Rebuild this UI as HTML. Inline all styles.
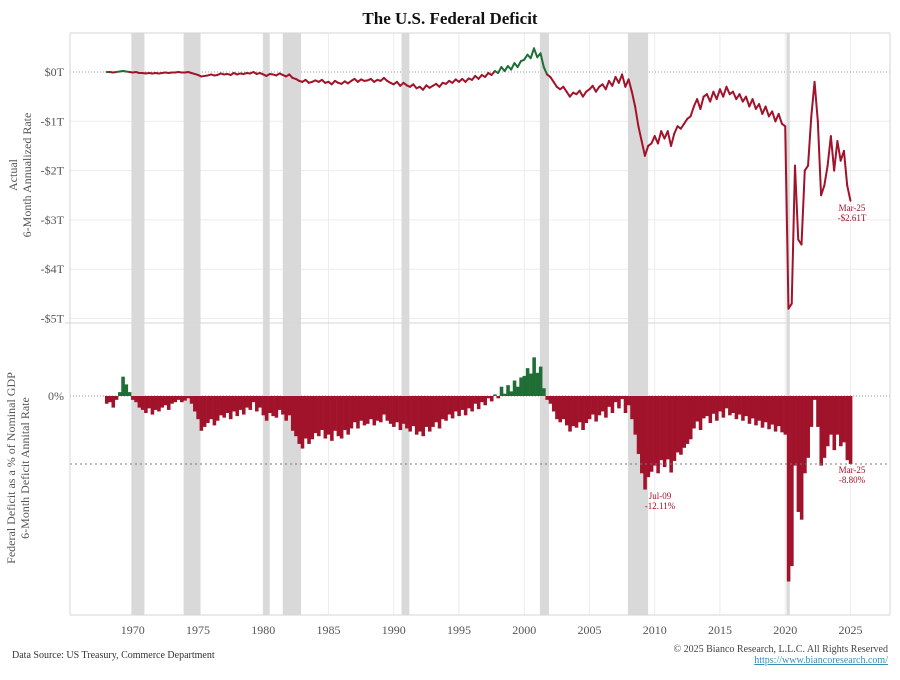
<!DOCTYPE html>
<html><head><meta charset="utf-8"><style>
body{margin:0;background:#fff;font-family:"Liberation Serif",serif}
svg text{font-family:"Liberation Serif",serif}
</style></head><body>
<svg id="c" width="900" height="675" viewBox="0 0 900 675" xmlns="http://www.w3.org/2000/svg">
<text x="450" y="24" text-anchor="middle" font-size="17" font-weight="bold" fill="#111">The U.S. Federal Deficit</text>
<g id="grid"></g>
<g id="rec"></g>
<g id="top"></g>
<g id="bot"></g>
<g id="axes"></g>
<text transform="translate(24,175) rotate(-90)" text-anchor="middle" font-size="12" fill="#555"><tspan x="0" dy="-7">Actual</tspan><tspan x="0" dy="14">6-Month Annualized Rate</tspan></text>
<text transform="translate(22,468) rotate(-90)" text-anchor="middle" font-size="12" fill="#555"><tspan x="0" dy="-7">Federal Deficit as a % of Nominal GDP</tspan><tspan x="0" dy="14">6-Month Deficit Annital Rate</tspan></text>
<text x="12" y="658" font-size="10" fill="#333">Data Source: US Treasury, Commerce Department</text>
<text x="888" y="652" text-anchor="end" font-size="10" fill="#444">© 2025 Bianco Research, L.L.C. All Rights Reserved</text>
<text x="888" y="663" text-anchor="end" font-size="10" fill="#3a8fb0" text-decoration="underline">https://www.biancoresearch.com/</text>
<text x="852" y="211" text-anchor="middle" font-size="9" fill="#a0132a"><tspan x="852">Mar-25</tspan><tspan x="852" dy="10">-$2.61T</tspan></text>
<text x="660" y="499" text-anchor="middle" font-size="9" fill="#a0132a"><tspan x="660">Jul-09</tspan><tspan x="660" dy="10">-12.11%</tspan></text>
<text x="852" y="473" text-anchor="middle" font-size="9" fill="#a0132a"><tspan x="852">Mar-25</tspan><tspan x="852" dy="10">-8.80%</tspan></text>
</svg>
<script>
const startYear = 1968;
const stepYears = 0.25;
const deficitT = [
0,0,-0.01,0, 0.01,0.02,0.01,0, -0.01,0,-0.02,-0.02, -0.03,-0.02,-0.03,-0.02,
-0.03,-0.02,-0.01,-0.02, -0.01,-0.01,0,-0.01, -0.01,0,-0.02,-0.04, -0.06,-0.09,-0.08,-0.07,
-0.05,-0.07,-0.06,-0.03, -0.05,-0.04,-0.06,-0.02, -0.05,-0.03,-0.04,-0.02, -0.03,0,-0.04,-0.02,
-0.05,-0.08,-0.04,-0.05, -0.07,-0.03,-0.06,-0.09, -0.05,-0.12,-0.14,-0.18, -0.2,-0.16,-0.22,-0.2,
-0.17,-0.2,-0.16,-0.22, -0.2,-0.25,-0.18,-0.22, -0.24,-0.19,-0.23,-0.18, -0.14,-0.2,-0.15,-0.18,
-0.17,-0.14,-0.2,-0.16, -0.18,-0.12,-0.18,-0.22, -0.25,-0.2,-0.28,-0.22, -0.27,-0.3,-0.25,-0.33,
-0.3,-0.36,-0.27,-0.32, -0.28,-0.24,-0.3,-0.22, -0.24,-0.18,-0.22,-0.15, -0.2,-0.14,-0.2,-0.13,
-0.16,-0.08,-0.14,-0.06, -0.1,-0.02,-0.06,0.02, -0.02,0.1,0.02,0.12, 0.05,0.18,0.1,0.22,
0.25,0.35,0.28,0.48, 0.3,0.38,0.1,-0.05, -0.1,-0.2,-0.3,-0.35, -0.3,-0.4,-0.5,-0.42,
-0.45,-0.38,-0.5,-0.4, -0.35,-0.28,-0.4,-0.3, -0.25,-0.35,-0.18,-0.28, -0.1,-0.22,-0.05,-0.3,
-0.15,-0.4,-0.7,-1.1, -1.4,-1.7,-1.5,-1.45, -1.3,-1.45,-1.2,-1.35, -1.2,-1.5,-1.25,-1.1,
-1.15,-1.05,-0.95,-0.9, -0.7,-0.55,-0.75,-0.5, -0.45,-0.6,-0.4,-0.55, -0.35,-0.5,-0.3,-0.45,
-0.4,-0.55,-0.45,-0.6, -0.5,-0.7,-0.55,-0.75, -0.65,-0.85,-0.7,-0.9, -0.8,-1.0,-0.85,-1.05,
-1.1,-4.8,-4.7,-1.9, -3.4,-3.5,-2.0,-1.9, -0.9,-0.2,-1.0,-2.5, -2.3,-1.9,-1.3,-2.0,
-1.4,-1.8,-1.6,-2.3, -2.61];
const deficitPct = [
-1,-0.8,-1.5,-0.5, 0.5,2.5,1.5,0.5, -0.5,-0.8,-1.5,-1.8, -2.2,-1.6,-2.4,-1.8,
-2,-1.5,-1.2,-1.8, -1,-0.8,-0.5,-0.8, -0.6,-0.3,-1,-2, -3,-4.5,-4,-3.5,
-3,-3.8,-3.2,-2.5, -2.8,-2.2,-3,-2, -2.6,-1.8,-2.4,-1.5, -1.8,-0.8,-2,-1.5,
-2.5,-3.2,-2.2,-2.6, -2.8,-1.8,-2.4,-3.2, -2.5,-4.5,-5.2,-6.2, -6.8,-5.5,-6.2,-5.6,
-4.8,-5.2,-4.4,-5.5, -5,-5.8,-4.5,-5.2, -5.5,-4.4,-5,-4.2, -3.4,-4.2,-3.2,-3.8,
-3.6,-3,-3.8,-3.2, -3.4,-2.4,-3.2,-3.6, -4,-3.4,-4.4,-3.6, -4.2,-4.6,-3.9,-5,
-4.6,-5.2,-4,-4.6, -4,-3.4,-4.2,-3, -3.2,-2.4,-2.9,-2, -2.6,-1.8,-2.5,-1.6,
-2,-1,-1.7,-0.8, -1.2,-0.3,-0.7,0.2, -0.3,1.2,0.3,1.4, 0.6,2.0,1.2,2.4,
2.6,3.6,2.9,5.0, 3.0,3.8,1,-0.5, -1,-2,-3,-3.4, -3,-3.8,-4.6,-3.9,
-4.1,-3.4,-4.4,-3.5, -3,-2.4,-3.3,-2.5, -2,-2.8,-1.4,-2.2, -0.8,-1.6,-0.4,-2.2,
-1.2,-3,-5,-7.5, -10,-12.1,-10.5,-9.8, -9,-10,-8.3,-9.2, -8.2,-9.9,-8.4,-7.3,
-7.6,-6.7,-6.2,-5.6, -4.2,-3.3,-4.4,-2.9, -2.6,-3.5,-2.3,-3.2, -2,-2.8,-1.6,-2.5,
-2.2,-3,-2.4,-3.2, -2.6,-3.6,-2.9,-3.8, -3.2,-4.1,-3.4,-4.3, -3.7,-4.6,-3.9,-4.7,
-5,-24,-22,-9, -15,-16,-10,-8, -4,-0.5,-4,-9, -8,-6.5,-5,-7,
-5,-6.5,-6,-8.3, -8.8];
const recessionStarts = [1969.9,1973.9,1980.0,1981.5,1990.6,2001.2,2007.95,2020.1];
const recessionEnds   = [1970.9,1975.2,1980.5,1982.9,1991.2,2001.9,2009.5,2020.35];
const xTickYears = [1970,1975,1980,1985,1990,1995,2000,2005,2010,2015,2020,2025];
const topTicks = [0,-1,-2,-3,-4,-5];
const topTickLabels = ['$0T','-$1T','-$2T','-$3T','-$4T','-$5T'];
const pctRef = -8.8;

const NS='http://www.w3.org/2000/svg';
const L=70,R=890,T1=33,B1=323,B2=615;
const x=y=>132.7+(y-1970)*13.05;
const yT=v=>72-v*49.3;
const yP=v=>396-v*7.73;
const RED='#a0132a',GRN='#1f6e35';
function mk(tag,attrs,parent){const e=document.createElementNS(NS,tag);for(const k in attrs)e.setAttribute(k,attrs[k]);document.getElementById(parent).appendChild(e);return e;}

recessionStarts.forEach((s,i)=>{
  const e=mk('rect',{x:x(s),y:T1,width:x(recessionEnds[i])-x(s),height:B2-T1,fill:'#d9d9d9'},'rec');
  
  
});
xTickYears.forEach(yr=>{
  const g=mk('line',{x1:x(yr),x2:x(yr),y1:T1,y2:B2,stroke:'#ececec','stroke-width':1},'grid');
  
  
  const t=mk('text',{x:x(yr),y:634,'text-anchor':'middle','font-size':12,fill:'#555'},'axes');
  t.textContent=yr;
  
  
});
topTicks.forEach((v,i)=>{
  if(v!==0){const g=mk('line',{x1:L,x2:R,y1:yT(v),y2:yT(v),stroke:'#ececec'},'grid');
  
  }
  const t=mk('text',{x:64,y:yT(v)+4,'text-anchor':'end','font-size':12,fill:'#555'},'axes');
  t.textContent=topTickLabels[i];
  
  
});
let z=mk('line',{x1:L,x2:R,y1:yT(0),y2:yT(0),stroke:'#999','stroke-dasharray':'1,2'},'grid');


z=mk('line',{x1:L,x2:R,y1:yP(0),y2:yP(0),stroke:'#999','stroke-dasharray':'1,2'},'grid');


z=mk('line',{x1:L,x2:R,y1:yP(pctRef),y2:yP(pctRef),stroke:'#777','stroke-dasharray':'2,3'},'axes');


let t0=mk('text',{x:64,y:yP(0)+4,'text-anchor':'end','font-size':12,fill:'#555'},'axes');
t0.textContent='0%';


[[L,T1,L,B2],[R,T1,R,B2],[L,T1,R,T1],[L,B1,R,B1],[L-5,B1,L,B1],[L,B2,R,B2]].forEach(c=>{
  const f=mk('line',{x1:c[0],y1:c[1],x2:c[2],y2:c[3],stroke:'#d6d6d6'},'axes');
  
  
});
for(let i=1;i<deficitT.length;i++){
  const a=startYear+(i-1)*stepYears,b=startYear+i*stepYears;
  const col=(deficitT[i]+deficitT[i-1])/2>=0?GRN:RED;
  const s=mk('line',{x1:x(a),y1:yT(deficitT[i-1]),x2:x(b),y2:yT(deficitT[i]),stroke:col,'stroke-width':2,'stroke-linecap':'round'},'top');
  
  
}
const bw=13.05*stepYears;
deficitPct.forEach((v,i)=>{
  const d=startYear+i*stepYears;
  const y0=yP(0),y1=yP(v);
  const r=mk('rect',{x:x(d)-bw/2,y:Math.min(y0,y1),width:bw+0.3,height:Math.abs(y1-y0),fill:v>=0?GRN:RED},'bot');
  
  
});
</script>
</body></html>
